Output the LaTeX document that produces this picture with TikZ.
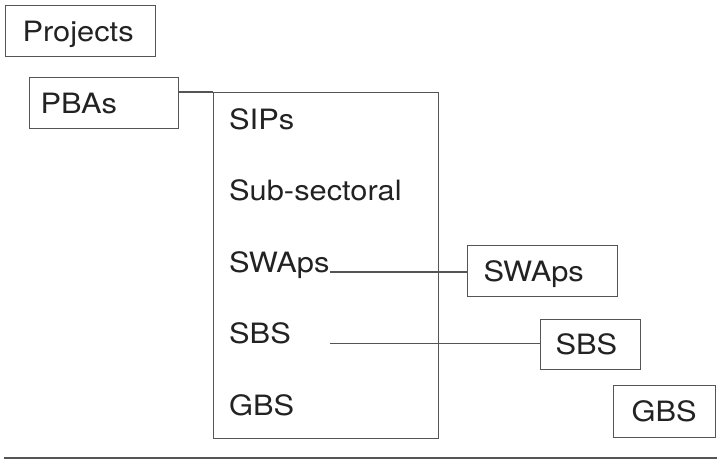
\documentclass[tikz,border=0pt]{standalone}
\usepackage{fontspec}
\setmainfont[FakeStretch=1.1]{TeX Gyre Heros}
\usepackage{tikz}
\usetikzlibrary{positioning, calc}

\definecolor{linegray}{HTML}{555555}
\definecolor{textgray}{HTML}{222222}
\newcommand{\boxfont}{\fontsize{28}{33}\selectfont}

\begin{document}
\begin{tikzpicture}[x=1pt, y=-1pt,
        box/.style={
                draw=linegray, line width=1.2pt, rectangle, anchor=north west,
                align=left, font=\boxfont, text=textgray,
                text height=20pt, text depth=0pt, inner ysep=0pt
            },
        item/.style={
                anchor=base west, inner sep=0pt, font=\boxfont, text=textgray
            },
        link/.style={draw=linegray, line width=1.2pt}
    ]
    \useasboundingbox (0,0) rectangle (717,467);

    % boxes on the left
    \node[box, minimum width=150pt, minimum height=51pt, text width=116pt, inner xsep=17pt] (projects) at (5,5) {Projects};
    \node[box, minimum width=149pt, minimum height=51pt, text width=127pt, inner xsep=11pt] (pbas) at (29,77) {PBAs};

    % the list of approaches
    \node[box, minimum width=225pt, minimum height=346pt, inner sep=0pt] (approaches) at (213,92) {};
    \node[item] (sips) at (229,129) {SIPs};
    \node[item] (subsect) at (229,200.5) {Sub-sectoral};
    \node[item] (swapsitem) at (229,272) {SWAps};
    \node[item] (sbsitem) at (229,343.5) {SBS};
    \node[item] (gbsitem) at (229,415) {GBS};

    % boxes on the right
    \node[box, minimum width=150pt, minimum height=51pt, text width=118pt, inner xsep=16pt] (swapsbox) at (467,245) {SWAps};
    \node[box, minimum width=100pt, minimum height=50pt, text width=70pt, inner xsep=15pt] (sbsbox) at (540,319) {SBS};
    \node[box, minimum width=102pt, minimum height=52pt, text width=66pt, inner xsep=18pt] (gbsbox) at (613,385) {GBS};

    % connectors
    \draw[link] (pbas.east |- approaches.north west) -- (approaches.north west);
    \draw[link] (swapsitem.base east) -- (swapsbox.west |- swapsitem.base);
    \draw[link] (swapsitem.base east |- sbsitem.base) -- (sbsbox.west |- sbsitem.base);

    % rule at the bottom
    \coordinate (ruleleft) at (4,458);
    \coordinate (ruleright) at (717,458);
    \coordinate (rulemark) at (697,458);
    \draw[link] (ruleleft) -- (ruleright);
    \draw[draw=linegray, line width=2.2pt] (rulemark) -- (ruleright);
\end{tikzpicture}
\end{document}
